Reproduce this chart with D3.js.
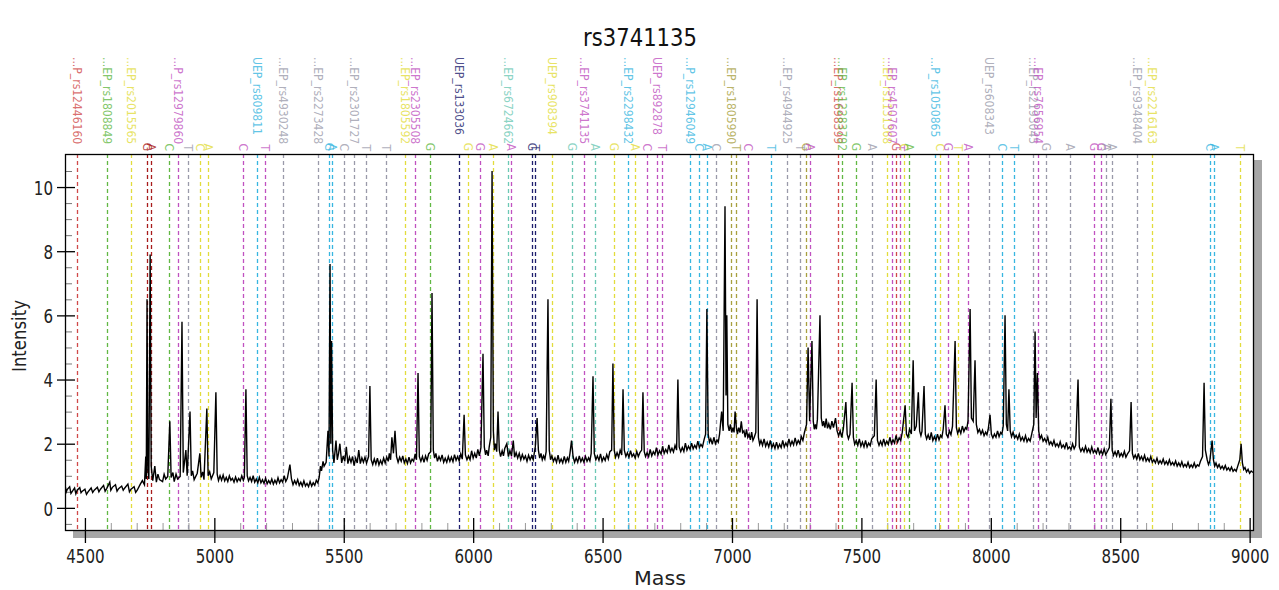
<!DOCTYPE html>
<html>
<head>
<meta charset="utf-8">
<script src="https://cdn.jsdelivr.net/npm/d3@7"></script>
<style>
  body { margin: 0; background: #fff; }
  svg text { font-family: "DejaVu Sans Condensed", "DejaVu Sans", sans-serif; font-stretch: condensed; }
  svg text.big { font-family: "DejaVu Sans", sans-serif; font-stretch: normal; }
</style>
</head>
<body>
<svg id="chart" width="1279" height="590"></svg>
<script>
// ---------------- data ----------------
const chartTitle = "rs3741135";
const massTicks = [4500, 5000, 5500, 6000, 6500, 7000, 7500, 8000, 8500, 9000];
const intensityTicks = [0, 2, 4, 6, 8, 10];

// spectrum: [mass, intensity]
const spectrum = [
[4423,0.72],[4428,0.5],[4432,0.58],[4441,0.66],[4446,0.45],[4450,0.5],[4460,0.62],[4465,0.44],[4470,0.55],[4480,0.63],[4485,0.47],[4490,0.52],[4500,0.58],[4506,0.42],[4512,0.5],
[4524,0.62],[4530,0.48],[4536,0.55],[4548,0.64],[4554,0.5],[4560,0.58],[4572,0.7],[4578,0.52],[4584,0.6],[4596,0.8],[4600,0.55],[4606,0.64],[4618,0.72],[4624,0.52],[4630,0.6],
[4642,0.68],[4648,0.55],[4654,0.62],[4666,0.74],[4672,0.5],[4678,0.58],[4690,0.66],[4696,0.48],[4702,0.55],[4714,0.74],[4722,0.85],[4730,0.72],[4735,1.6],
[4737,0.9],[4740,6.5],[4743,1.2],[4747,0.9],[4752,7.9],[4756,1.3],[4762,0.85],[4770,1.3],[4776,0.8],[4782,1.05],[4788,0.88],
[4800,0.82],[4806,1.05],[4812,0.9],[4820,0.98],[4828,2.7],[4833,0.95],[4840,1.1],[4845,0.82],[4852,1.05],[4858,0.9],[4868,0.98],[4875,5.8],[4880,1.1],
[4890,1.8],[4895,1.0],[4906,3.0],[4911,1.0],[4916,1.15],[4922,0.88],[4934,1.08],[4944,1.7],[4949,0.95],[4955,1.12],[4960,0.88],[4971,3.1],
[4976,1.0],[4982,1.12],[4988,0.9],[4998,1.1],[5006,3.6],[5011,1.05],[5016,0.85],[5022,1.0],[5028,0.86],[5034,1.02],[5040,0.84],[5046,0.95],[5052,0.82],[5058,1.0],[5064,0.86],[5070,0.92],
[5076,0.8],[5082,0.96],[5088,0.82],[5094,0.92],[5100,0.84],[5106,1.0],[5112,0.86],[5116,0.95],[5122,3.7],[5127,1.0],[5132,0.84],[5138,0.95],[5144,0.82],[5150,1.0],[5156,0.8],[5162,0.9],[5168,0.78],[5174,0.95],
[5180,0.78],[5186,0.88],[5192,0.76],[5198,0.92],[5204,0.75],[5210,0.85],[5216,0.76],[5222,0.9],[5228,0.74],[5234,0.86],[5240,0.76],[5246,0.94],[5252,0.78],[5258,0.88],[5264,0.8],[5270,1.0],[5276,0.82],[5282,0.92],[5292,1.35],
[5298,0.9],[5304,0.72],[5310,0.85],[5316,0.74],[5322,0.88],[5328,0.7],[5334,0.8],[5340,0.68],[5346,0.84],[5352,0.68],[5358,0.76],[5364,0.66],[5370,0.82],[5376,0.68],[5382,0.78],[5388,0.7],[5394,0.86],[5400,0.78],[5405,0.95],
[5410,1.3],[5414,1.15],[5420,1.45],[5424,1.3],[5432,1.42],[5439,2.4],[5443,1.6],[5447,7.6],[5450,2.0],[5453,5.2],[5457,1.8],[5462,1.4],[5465,1.65],[5470,2.1],[5475,1.5],
[5480,1.7],[5485,2.0],[5492,1.4],[5498,1.62],[5504,1.45],[5510,1.9],[5516,1.38],[5522,1.58],[5528,1.42],[5534,1.6],[5540,1.32],[5546,1.55],[5552,1.4],[5558,1.8],[5564,1.38],[5570,1.56],[5576,1.42],
[5582,1.58],[5588,1.4],[5596,1.6],[5601,3.8],[5606,1.5],[5612,1.35],[5618,1.52],[5624,1.36],[5630,1.55],[5636,1.34],[5642,1.48],[5648,1.36],[5654,1.55],[5660,1.4],[5666,1.58],[5672,1.45],[5676,1.7],[5681,1.5],[5686,2.2],
[5692,1.7],[5698,2.4],[5704,1.6],[5710,1.42],[5716,1.58],[5722,1.45],[5728,1.62],[5734,1.4],[5740,1.52],[5746,1.38],[5752,1.58],[5758,1.4],[5764,1.52],[5770,1.45],[5776,1.68],[5781,1.5],[5787,4.2],
[5792,1.6],[5798,1.45],[5804,1.6],[5810,1.42],[5816,1.62],[5822,1.48],[5828,1.68],[5836,1.75],[5841,6.7],[5846,1.8],[5851,1.55],[5856,1.7],[5862,1.45],[5868,1.6],[5874,1.48],[5880,1.65],[5886,1.42],
[5892,1.55],[5898,1.42],[5904,1.6],[5910,1.45],[5916,1.58],[5922,1.44],[5928,1.66],[5934,1.48],[5940,1.6],[5946,1.46],[5952,1.68],[5958,1.52],[5965,2.9],[5970,1.65],[5976,1.5],[5982,1.62],[5988,1.5],[5994,1.78],
[6000,1.55],[6006,1.7],[6012,1.55],[6018,1.82],[6024,1.62],[6030,1.88],[6038,4.8],[6043,1.9],[6048,1.65],[6052,1.8],[6058,1.62],[6062,1.9],[6068,2.2],[6073,10.5],[6078,2.4],
[6082,1.8],[6086,2.0],[6091,1.75],[6096,3.0],[6101,1.8],[6106,1.6],[6112,1.78],[6117,1.62],[6122,1.85],[6130,2.0],[6136,1.6],[6142,1.78],[6148,1.62],[6155,2.1],[6160,1.58],[6166,1.72],[6172,1.55],
[6178,1.7],[6184,1.5],[6190,1.66],[6196,1.52],[6202,1.62],[6208,1.45],[6214,1.64],[6220,1.5],[6226,1.62],[6232,1.5],[6240,1.9],[6247,2.8],[6252,1.8],[6257,1.55],[6262,1.7],[6267,1.5],[6272,1.62],
[6277,1.52],[6282,1.75],[6289,6.5],[6294,1.8],[6299,1.5],[6304,1.62],[6310,1.45],[6316,1.56],[6322,1.42],[6328,1.64],[6334,1.42],[6340,1.52],[6346,1.4],[6352,1.6],[6358,1.42],[6364,1.56],[6369,1.45],[6374,1.7],
[6380,2.1],[6386,1.6],[6392,1.42],[6398,1.56],[6404,1.42],[6410,1.62],[6416,1.44],[6422,1.55],[6428,1.42],[6434,1.6],[6440,1.45],[6446,1.56],[6451,1.46],[6456,1.7],[6463,4.1],[6468,1.7],
[6474,1.5],[6480,1.62],[6486,1.48],[6492,1.68],[6498,1.45],[6504,1.58],[6510,1.48],[6516,1.66],[6522,1.52],[6528,1.75],[6535,1.8],[6540,4.5],[6545,1.8],[6550,1.58],[6556,1.72],[6562,1.58],[6568,1.8],
[6574,1.65],[6579,3.7],[6584,1.8],[6590,1.6],[6596,1.72],[6602,1.58],[6608,1.78],[6614,1.6],[6620,1.68],[6626,1.55],[6632,1.76],[6638,1.6],[6644,1.72],[6651,1.8],[6656,3.6],[6661,1.75],
[6666,1.6],[6672,1.72],[6678,1.6],[6684,1.82],[6690,1.62],[6696,1.75],[6702,1.66],[6708,1.88],[6714,1.65],[6720,1.78],[6726,1.68],[6732,1.92],[6738,1.7],[6744,1.82],[6750,1.72],[6756,1.96],[6762,1.75],[6768,1.86],[6774,1.74],[6780,1.95],
[6786,1.8],[6791,4.0],[6796,1.9],[6802,1.75],[6808,1.88],[6814,1.76],[6820,2.02],[6826,1.8],[6832,1.92],[6838,1.82],[6844,2.02],[6850,1.84],[6856,1.95],[6862,1.86],[6868,2.08],[6874,1.88],[6880,1.98],[6886,1.9],[6892,2.12],
[6898,2.3],[6903,6.2],[6908,2.3],[6913,2.05],[6918,2.15],[6924,1.98],[6930,2.2],[6936,2.0],[6942,2.12],[6947,2.05],[6952,2.3],[6960,3.0],[6966,2.4],[6973,9.4],
[6977,3.5],[6980,6.0],[6984,2.6],[6989,2.4],[6994,2.6],[6999,2.35],[7004,2.5],[7008,2.35],[7012,3.0],[7017,2.5],[7021,2.3],[7026,2.5],[7031,2.35],[7036,2.7],[7041,2.35],[7046,2.4],
[7051,2.2],[7056,2.45],[7061,2.2],[7066,2.3],[7071,2.12],[7076,2.36],[7081,2.1],[7086,2.2],[7092,2.35],[7097,6.5],[7102,2.2],[7107,1.98],[7112,2.1],[7118,1.95],[7124,2.15],[7130,1.92],[7136,2.05],
[7142,1.9],[7148,2.1],[7154,1.88],[7160,2.0],[7166,1.85],[7172,2.05],[7178,1.86],[7184,1.98],[7190,1.88],[7196,2.1],[7202,1.9],[7208,2.02],[7214,1.92],[7220,2.15],[7226,1.95],[7232,2.08],[7238,1.96],[7244,2.18],[7250,1.98],[7256,2.1],
[7262,2.0],[7268,2.22],[7274,2.1],[7280,2.35],[7288,2.6],[7294,5.0],[7300,2.7],[7309,5.2],[7314,2.7],[7318,2.45],[7322,2.6],[7326,2.45],[7330,2.75],[7340,6.0],
[7345,2.8],[7350,2.55],[7354,2.7],[7359,2.5],[7364,2.78],[7369,2.48],[7374,2.62],[7380,2.45],[7386,2.7],[7392,2.5],[7400,2.8],[7406,2.4],[7412,2.25],[7418,2.4],[7424,2.2],[7430,2.45],[7440,3.3],
[7445,2.3],[7450,2.15],[7456,2.3],[7464,3.9],[7469,2.2],[7474,1.98],[7480,2.1],[7486,1.95],[7492,2.15],[7498,1.92],[7504,2.05],[7510,1.9],[7516,2.1],[7522,1.9],[7528,2.02],[7534,1.94],[7540,2.15],
[7550,2.25],[7557,4.0],[7562,2.1],[7568,1.95],[7574,2.08],[7580,1.95],[7586,2.15],[7592,1.96],[7598,2.08],[7604,1.98],[7610,2.2],[7616,2.0],[7622,2.12],[7628,2.02],[7634,2.26],[7640,2.05],[7646,2.18],
[7652,2.1],[7658,2.36],[7669,3.2],[7674,2.3],[7680,2.2],[7686,2.45],[7693,2.3],[7700,4.6],[7705,2.4],[7712,2.55],[7720,3.6],[7725,2.4],[7730,2.25],[7734,2.38],
[7742,3.8],[7747,2.3],[7752,2.15],[7758,2.28],[7764,2.12],[7770,2.35],[7776,2.1],[7782,2.22],[7788,2.1],[7794,2.3],[7800,2.12],[7806,2.26],[7811,2.2],[7816,2.45],[7823,3.2],[7828,2.3],
[7834,2.2],[7840,2.4],[7846,2.28],[7852,2.55],[7862,5.2],[7867,2.5],[7872,2.32],[7878,2.46],[7884,2.32],[7890,2.55],[7896,2.38],[7902,2.5],[7907,2.45],[7912,2.72],[7920,6.2],[7925,2.8],
[7932,2.7],[7939,4.6],[7944,2.6],[7950,2.35],[7956,2.45],[7962,2.3],[7968,2.42],[7974,2.25],[7980,2.36],[7985,2.28],[7990,2.45],[7997,2.9],[8002,2.3],[8008,2.18],[8014,2.3],
[8020,2.2],[8026,2.4],[8032,2.22],[8038,2.35],[8043,2.3],[8048,2.55],[8055,6.0],[8060,2.6],[8065,2.4],[8070,3.7],[8075,2.4],[8080,2.22],[8086,2.36],[8092,2.18],[8098,2.26],[8104,2.14],[8110,2.3],
[8116,2.1],[8122,2.2],[8128,2.08],[8134,2.25],[8140,2.06],[8146,2.16],[8152,2.08],[8158,2.3],[8166,2.6],[8171,5.5],[8175,2.8],[8180,4.2],[8185,2.4],[8190,2.15],[8196,2.26],
[8202,2.08],[8208,2.16],[8214,2.05],[8220,2.2],[8226,1.98],[8232,2.06],[8238,1.95],[8244,2.1],[8250,1.92],[8256,2.0],[8262,1.9],[8268,2.06],[8274,1.88],[8280,1.96],[8286,1.86],[8292,2.04],[8298,1.84],[8304,1.9],[8310,1.82],[8316,2.0],
[8322,1.84],[8328,1.95],[8337,4.0],[8342,1.9],[8348,1.76],[8354,1.86],[8360,1.75],[8366,1.92],[8372,1.74],[8378,1.84],[8384,1.72],[8390,1.9],[8396,1.72],[8402,1.8],[8408,1.7],[8414,1.88],[8420,1.68],[8426,1.78],
[8432,1.66],[8438,1.84],[8444,1.66],[8450,1.75],[8458,1.88],[8464,3.4],[8469,1.8],[8474,1.64],[8480,1.75],[8486,1.62],[8492,1.8],[8498,1.6],[8504,1.7],[8510,1.6],[8516,1.76],[8522,1.58],[8528,1.68],
[8536,1.78],[8542,3.3],[8547,1.7],[8552,1.55],[8558,1.65],[8564,1.52],[8570,1.7],[8576,1.5],[8582,1.6],[8588,1.48],[8594,1.64],[8600,1.46],[8606,1.55],[8612,1.45],[8618,1.6],[8624,1.42],[8630,1.5],
[8636,1.4],[8642,1.55],[8648,1.38],[8654,1.47],[8660,1.38],[8666,1.52],[8672,1.36],[8678,1.45],[8684,1.35],[8690,1.5],[8696,1.34],[8702,1.42],[8708,1.33],[8714,1.46],[8720,1.3],[8726,1.4],[8732,1.3],[8738,1.44],[8744,1.28],[8750,1.36],
[8756,1.28],[8762,1.42],[8768,1.26],[8774,1.34],[8780,1.26],[8786,1.4],[8792,1.26],[8798,1.34],[8804,1.3],[8810,1.45],[8818,1.6],[8824,3.9],[8829,1.8],[8836,1.5],[8841,1.35],[8846,1.45],
[8855,2.1],[8860,1.5],[8865,1.3],[8870,1.4],[8876,1.26],[8882,1.35],[8888,1.22],[8894,1.3],[8900,1.2],[8906,1.32],[8912,1.18],[8918,1.25],[8924,1.16],[8930,1.27],[8936,1.14],[8942,1.2],[8948,1.14],[8954,1.3],
[8962,1.5],[8967,2.0],[8972,1.4],[8977,1.2],[8982,1.26],[8988,1.12],[8994,1.2],[9000,1.08],[9006,1.15],[9013,1.1]
];

// expected masses (dashed lines), their colour group and their label
const markerMass = [4469,4585,4678,4740,4755,4825,4859,4898,4944,4975,5110,5165,5196,5265,5400,5443,5454,5501,5539,5586,
  5663,5736,5775,5833,5945,5980,6026,6077,6134,6146,6227,6239,6305,6382,6428,6471,6544,6598,6625,6672,
  6710,6730,6838,6873,6903,6938,6996,7015,7062,7151,7213,7263,7286,7301,7410,7425,7479,7541,7599,7618,
  7634,7649,7665,7684,7784,7804,7835,7873,7912,7993,8043,8090,8163,8182,8213,8306,8399,8426,8445,8468,
  8565,8623,8847,8862,8963];
const markerGroup = ["red","green","yellow","dred","dred","green","purple","gray","yellow","yellow","purple","cyan","purple","gray","gray","cyan","cyan","gray","gray","gray",
  "gray","yellow","purple","green","navy","yellow","purple","yellow","teal","purple","navy","navy","yellow","teal","purple","teal","yellow","cyan","yellow","purple",
  "purple","purple","cyan","cyan","cyan","gray","olive","olive","purple","cyan","gray","gray","olive","purple","red","green","green","gray","yellow","purple",
  "red","purple","yellow","green","cyan","yellow","purple","yellow","purple","gray","cyan","cyan","gray","purple","gray","gray","purple","purple","gray","gray",
  "gray","yellow","cyan","cyan","yellow"];
const markerLabel = ["...P_rs12446160","...EP_rs1808849","...EP_rs2015565","G","A","C","...P_rs12979860","T","C","A","C","UEP_rs809811","T","...EP_rs4930248","...EP_rs2273428","G","A","C","...EP_rs2301727","T",
  "T","...EP_rs1805592","...EP_rs2305508","G","UEP_rs133036","G","G","A","...EP_rs6724662","A","G","T","UEP_rs908394","G","...EP_rs3741135","A","G","...EP_rs2298432","A","C",
  "UEP_rs892878","T","...P_rs12946049","C","A","C","...EP_rs1805990","T","C","T","...EP_rs4944925","T","G","A","...EP_rs1698399","...EP_rs12283792","G","A","...EP_rs1131368","...EP_rs4507607",
  "G","T","C","A","...P_rs1050865","C","G","T","A","UEP_rs608343","C","T","...EP_rs2193045","...EP_rs7656954","G","A","G","G","A","A",
  "...EP_rs9348404","...EP_rs2216163","C","A","T"];

const groupColors = {
  red: "#d04a4a", dred: "#a81c1c", green: "#62b844", yellow: "#e2dc3c", purple: "#c052c0",
  gray: "#9a9aaa", cyan: "#38b6e0", teal: "#6cc8b4", navy: "#1e1e6e", olive: "#a8a040"
};

// ---------------- layout ----------------
const svg = d3.select("#chart");
const plot = {left: 65, top: 154, right: 1253, bottom: 530};
const digitW = 9.6; // the original text is tall and narrow

const x = d3.scaleLinear().domain([4423, 9013]).range([plot.left, plot.right]);
const y = d3.scaleLinear().domain([-0.69, 11.03]).range([plot.bottom, plot.top]);

// title
svg.append("text")
  .attr("class", "big")
  .attr("x", 640).attr("y", 46)
  .attr("text-anchor", "middle")
  .style("font-size", "25px")
  .attr("textLength", 114).attr("lengthAdjust", "spacingAndGlyphs")
  .attr("fill", "#111")
  .text(chartTitle);

// drop shadow + frame background
svg.append("rect")
  .attr("x", plot.left + 8).attr("y", plot.top + 6)
  .attr("width", plot.right - plot.left + 1).attr("height", plot.bottom - plot.top + 2)
  .attr("fill", "#a6a6a6");
svg.append("rect")
  .attr("x", plot.left).attr("y", plot.top)
  .attr("width", plot.right - plot.left).attr("height", plot.bottom - plot.top)
  .attr("fill", "#fff");

svg.append("clipPath").attr("id", "clip")
  .append("rect")
  .attr("x", plot.left).attr("y", plot.top)
  .attr("width", plot.right - plot.left).attr("height", plot.bottom - plot.top);

//------------------------------minor ticks-------------------------------------
const minorY = d3.range(-0.5, 11, 0.5).filter(v => v % 2 !== 0);
svg.append("g").selectAll("line").data(minorY).join("line")
  .attr("x1", plot.left).attr("x2", plot.left + 7)
  .attr("y1", d => y(d) + 0.5).attr("y2", d => y(d) + 0.5)
  .attr("stroke", "#777");

const minorX = d3.range(4500, 9013, 100).filter(v => v % 500 !== 0);
svg.append("g").selectAll("line").data(minorX).join("line")
  .attr("x1", d => x(d) + 0.5).attr("x2", d => x(d) + 0.5)
  .attr("y1", plot.bottom).attr("y2", plot.bottom - 7)
  .attr("stroke", "#999");

//------------------------------marker lines------------------------------------
const markers = markerMass.map((m, i) => ({mass: m, color: groupColors[markerGroup[i]], label: markerLabel[i]}));

const gLines = svg.append("g").attr("clip-path", "url(#clip)");
gLines.selectAll("line").data(markers).join("line")
  .attr("x1", d => Math.round(x(d.mass)) + 0.5)
  .attr("x2", d => Math.round(x(d.mass)) + 0.5)
  .attr("y1", plot.top).attr("y2", plot.bottom)
  .attr("stroke", d => d.color)
  .attr("stroke-width", 1.3)
  .attr("stroke-dasharray", "4,3");

// labels over the frame, rotated to read downwards
const gLabels = svg.append("g");
gLabels.selectAll("text").data(markers).join("text")
  .attr("transform", d => d.label.length > 1
    ? `translate(${Math.round(x(d.mass))},57) rotate(90)`
    : `translate(${Math.round(x(d.mass))},151) rotate(90)`)
  .attr("text-anchor", d => d.label.length > 1 ? "start" : "end")
  .attr("dy", "0.35em")
  .style("font-size", "12px")
  .attr("fill", d => d.color)
  .attr("fill-opacity", 0.8)
  .text(d => d.label);

//------------------------------spectrum----------------------------------------
const line = d3.line().x(d => x(d[0])).y(d => y(d[1]));
svg.append("path")
  .datum(spectrum)
  .attr("clip-path", "url(#clip)")
  .attr("d", line)
  .attr("fill", "none")
  .attr("stroke", "#000")
  .attr("stroke-width", 1.4);

//------------------------------axes & frame------------------------------------
svg.append("rect")
  .attr("x", plot.left + 0.5).attr("y", plot.top + 0.5)
  .attr("width", plot.right - plot.left).attr("height", plot.bottom - plot.top)
  .attr("fill", "none").attr("stroke", "#000").attr("stroke-width", 1.3);

const xAxis = svg.append("g")
  .attr("transform", `translate(0,${plot.bottom})`)
  .call(d3.axisBottom(x).tickValues(massTicks).tickSize(13).tickFormat(d3.format("d")));
xAxis.select(".domain").remove();
xAxis.selectAll(".tick line").attr("y1", -12).attr("stroke", "#000").attr("stroke-width", 1.3);
xAxis.selectAll(".tick text")
  .attr("class", "big")
  .attr("y", 33).attr("dy", null)
  .style("font-size", "20px")
  .attr("textLength", d => String(d).length * digitW).attr("lengthAdjust", "spacingAndGlyphs")
  .attr("fill", "#222");

const yAxis = svg.append("g")
  .attr("transform", `translate(${plot.left},0)`)
  .call(d3.axisLeft(y).tickValues(intensityTicks).tickSize(8));
yAxis.select(".domain").remove();
yAxis.selectAll(".tick line").attr("x1", 10).attr("stroke", "#000").attr("stroke-width", 1.3);
yAxis.selectAll(".tick text")
  .attr("class", "big")
  .attr("x", -12).attr("dy", "0.36em")
  .style("font-size", "20px")
  .attr("textLength", d => String(d).length * digitW).attr("lengthAdjust", "spacingAndGlyphs")
  .attr("fill", "#222");

// axis titles
svg.append("text")
  .attr("class", "big")
  .attr("x", 660).attr("y", 585)
  .attr("text-anchor", "middle")
  .style("font-size", "20px")
  .attr("textLength", 52).attr("lengthAdjust", "spacingAndGlyphs")
  .attr("fill", "#222")
  .text("Mass");
svg.append("text")
  .attr("class", "big")
  .attr("transform", "translate(26,336) rotate(-90)")
  .attr("text-anchor", "middle")
  .style("font-size", "20px")
  .attr("textLength", 72).attr("lengthAdjust", "spacingAndGlyphs")
  .attr("fill", "#222")
  .text("Intensity");
</script>
</body>
</html>
